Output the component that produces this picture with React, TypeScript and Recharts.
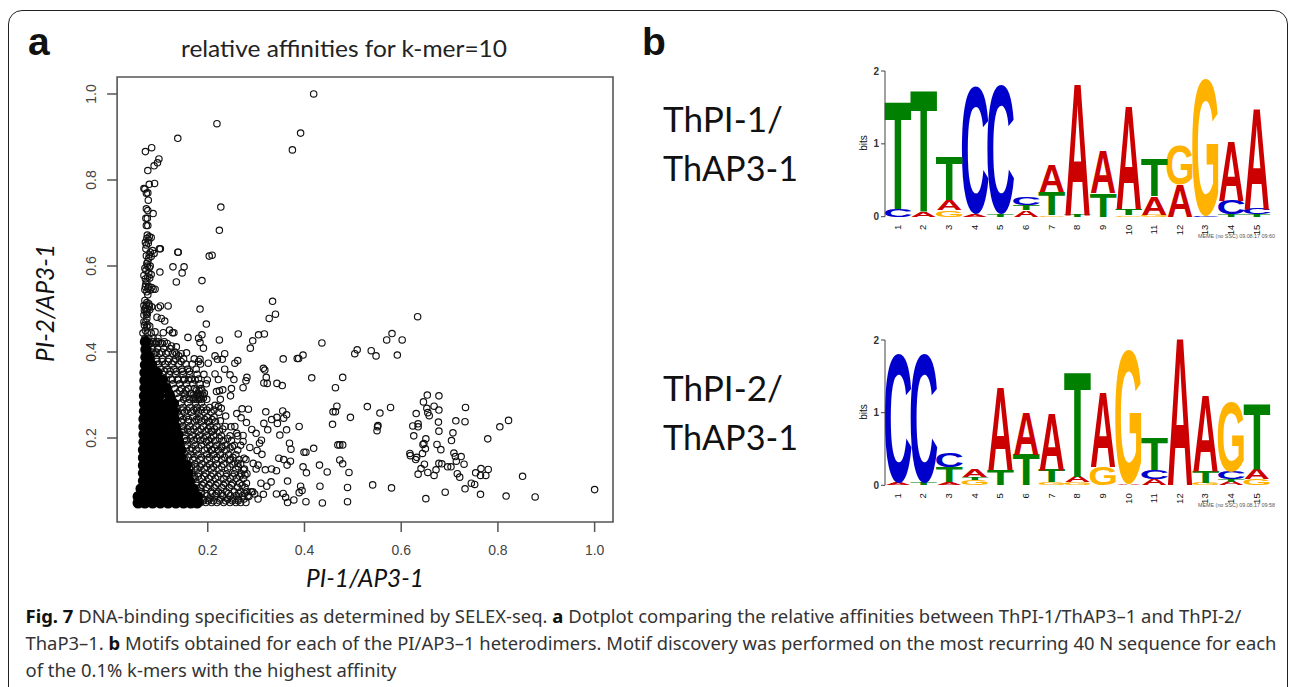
import React from 'react';
import { ScatterChart, Scatter, XAxis, YAxis, ReferenceArea, BarChart, Bar } from 'recharts';

const xTicks = [0.2, 0.4, 0.6, 0.8, 1.0];
const yTicks = [0.2, 0.4, 0.6, 0.8, 1.0];

const farPoints: [number, number][] = [
[.634,.482],[.581,.443],[.570,.428],[.602,.428],[.509,.405],[.504,.396],[.538,.403],[.548,.391],[.592,.393],[.436,.421],[.397,.393],[.385,.385],[.388,.385],[.356,.384],[.415,.340],[.479,.341],[.464,.317],[.467,.274],[.459,.261],[.464,.261],[.530,.273],[.556,.258],[.578,.271],[.495,.248],[.458,.232],[.551,.226],[.552,.229],[.550,.217],[.389,.227],[.419,.176],[.469,.184],[.473,.184],[.479,.184],[.399,.167],[.403,.167],[.473,.149],[.479,.140],[.431,.137],[.397,.133],[.404,.119],[.447,.121],[.492,.120],[.392,.088],[.432,.088],[.489,.085],[.541,.091],[.580,.084],[.403,.052],[.437,.049],[.489,.052],[.651,.059],[.691,.074],[.732,.082],[.745,.095],[.752,.092],[.764,.069],[.817,.065],[.877,.063],[1.0,.080],[.851,.111],[.780,.127],[.765,.129],[.754,.119],[.764,.113],[.775,.113],[.716,.117],[.721,.109],[.730,.139],[.724,.157],[.709,.165],[.712,.157],[.714,.146],[.703,.133],[.696,.133],[.684,.140],[.678,.141],[.672,.126],[.668,.113],[.655,.120],[.635,.116],[.641,.129],[.648,.139],[.630,.150],[.632,.155],[.618,.164],[.619,.159],[.644,.164],[.650,.175],[.645,.185],[.647,.187],[.651,.198],[.626,.205],[.624,.228],[.635,.233],[.635,.226],[.631,.257],[.646,.284],[.654,.300],[.653,.269],[.655,.259],[.658,.252],[.668,.274],[.678,.298],[.678,.265],[.677,.237],[.678,.216],[.674,.185],[.682,.173],[.707,.212],[.704,.194],[.713,.240],[.732,.238],[.733,.271],[.779,.198],[.804,.226],[.822,.241],
];

const topPoints: [number, number][] = [
[.419,1.0],[.392,.909],[.375,.870],[.219,.931],[.138,.897],[.084,.875],[.071,.866],[.099,.849],[.096,.840],[.089,.833],[.076,.822],[.090,.792],[.079,.790],[.068,.780],[.070,.779],[.073,.769],[.076,.770],[.077,.753],[.073,.733],[.076,.729],[.087,.722],[.227,.737],[.224,.683],[.072,.711],[.075,.711],[.073,.694],[.076,.694],[.075,.672],[.079,.668],[.083,.666],[.073,.649],[.077,.653],[.100,.640],[.102,.640],[.086,.636],[.089,.629],[.139,.632],[.138,.632],[.203,.623],[.209,.625],[.073,.624],[.078,.618],[.076,.610],[.070,.595],[.081,.600],[.128,.598],[.151,.598],[.147,.584],[.101,.586],[.078,.584],[.083,.580],[.068,.578],[.074,.564],[.135,.563],[.188,.566],[.071,.552],[.078,.552],[.087,.546],[.091,.546],[.076,.533],[.334,.518],[.184,.500],[.340,.488],[.327,.478],[.068,.508],[.073,.509],[.079,.507],[.084,.505],[.102,.507],[.118,.507],[.068,.486],[.073,.494],[.098,.503],[.072,.640],[.075,.600],[.071,.570],[.074,.540],[.070,.520],[.076,.500],[.072,.470],[.069,.462],
[.074,.664],[.078,.660],[.071,.655],[.081,.632],[.079,.626],[.083,.622],[.074,.606],[.079,.596],[.072,.590],[.076,.575],[.080,.572],[.072,.558],[.076,.548],[.081,.544],[.084,.550],[.070,.545],[.074,.515],[.078,.512],[.071,.502],[.075,.488],[.069,.497],[.080,.498],[.074,.478],[.068,.470],[.076,.463],
];

const midPoints: [number, number][] = [
[.095,.481],[.104,.478],[.111,.472],[.073,.488],[.197,.465],[.074,.459],[.080,.460],[.071,.450],[.091,.447],[.108,.445],[.121,.451],[.127,.445],[.130,.445],[.159,.434],[.181,.432],[.188,.440],[.184,.422],[.224,.428],[.263,.442],[.305,.440],[.317,.442],[.293,.426],[.288,.409],[.191,.409],[.094,.424],[.106,.420],[.125,.414],[.135,.412],[.156,.398],[.135,.395],[.140,.391],[.215,.391],[.235,.396],[.220,.383],[.230,.383],[.184,.383],[.181,.378],[.201,.374],[.262,.380],[.256,.374],[.315,.362],[.318,.358],[.321,.341],[.316,.328],[.323,.327],[.343,.327],[.354,.322],[.281,.341],[.279,.333],[.273,.317],[.254,.336],[.246,.347],[.235,.360],[.215,.349],[.199,.335],[.222,.336],[.249,.315],[.247,.298],[.218,.308],[.224,.310],[.231,.312],[.226,.290],[.215,.276],[.222,.273],[.228,.269],[.271,.268],[.284,.267],[.320,.261],[.260,.257],[.355,.263],[.363,.254],[.357,.246],[.343,.248],[.332,.243],[.316,.234],[.324,.219],[.344,.234],[.363,.219],[.349,.207],[.269,.247],[.280,.236],[.291,.220],[.300,.211],[.311,.195],[.307,.188],[.302,.171],[.312,.162],[.273,.206],[.273,.192],[.287,.178],[.260,.211],[.248,.226],[.237,.251],[.201,.238],[.226,.240],[.369,.188],[.372,.174],[.347,.153],[.357,.150],[.371,.146],[.364,.137],[.294,.141],[.304,.137],[.300,.128],[.319,.126],[.332,.128],[.342,.124],[.365,.100],[.310,.095],[.322,.088],[.331,.098],[.389,.073],[.395,.078],[.356,.071],[.342,.070],[.361,.062],[.365,.050],[.378,.056],[.290,.075],[.297,.070],[.315,.069],[.304,.058],[.285,.064],[.275,.153],[.274,.126],[.277,.114],[.262,.141],[.245,.149],[.251,.180],[.229,.180],[.209,.172],[.197,.191],[.209,.215],
];

const fringeRows: [number, number[]][] = [
[.050,[.185,.196,.208,.219,.233,.246,.258,.268,.279]],
[.058,[.190,.204,.226,.241,.252,.263,.275]],
[.066,[.182,.199,.215,.231,.247,.259,.272,.283]],
[.075,[.187,.207,.222,.238,.255,.268,.281,.293]],
[.085,[.184,.198,.213,.229,.244,.262,.277]],
[.095,[.176,.192,.206,.221,.236,.251,.266,.28]],
[.106,[.171,.187,.202,.216,.233,.247,.259,.274]],
[.117,[.166,.181,.196,.211,.226,.239,.255,.27,.281]],
[.128,[.162,.178,.193,.207,.223,.241,.258,.276]],
[.139,[.158,.173,.188,.204,.218,.233,.252,.268]],
[.150,[.152,.169,.184,.199,.216,.229,.247,.265,.279]],
[.161,[.149,.165,.18,.197,.212,.226,.243,.258]],
[.172,[.148,.163,.176,.193,.208,.222,.238,.262]],
[.183,[.144,.158,.174,.187,.204,.219,.236,.255,.268]],
[.194,[.141,.156,.171,.185,.201,.216,.232,.249]],
[.205,[.139,.153,.168,.183,.198,.212,.228,.246,.262]],
[.216,[.137,.15,.165,.18,.196,.207,.224]],
[.227,[.134,.148,.163,.176,.191,.205,.219,.236,.256]],
[.238,[.13,.145,.159,.173,.187,.203,.216]],
[.249,[.126,.142,.156,.169,.184,.199,.213]],
[.26,[.122,.137,.152,.166,.181,.193,.207,.223]],
[.271,[.118,.134,.149,.163,.178,.191,.204]],
[.282,[.114,.129,.145,.159,.175,.187]],
[.293,[.11,.125,.14,.155,.17,.182,.191]],
[.304,[.107,.122,.136,.151,.166,.18,.193]],
[.315,[.104,.118,.132,.146,.16,.172,.186]],
[.326,[.1,.114,.128,.142,.156,.169,.184,.197]],
[.337,[.098,.11,.124,.138,.152,.166,.181]],
[.348,[.094,.107,.12,.134,.149,.163,.178,.192]],
[.36,[.09,.102,.116,.13,.146,.158,.176]],
[.372,[.086,.098,.112,.126,.14,.155,.168,.185]],
[.384,[.083,.094,.106,.12,.134,.15,.172]],
[.396,[.08,.09,.1,.114,.127,.145]],
[.408,[.076,.086,.096,.109,.122]],
[.42,[.072,.082,.092,.102,.116]],
[.432,[.07,.078,.087,.097]],
[.444,[.066,.075,.083]],
];

const fringeRows2: [number, number[]][] = [
[.054,[.183,.191,.201,.212,.224,.237,.251,.263]],
[.071,[.186,.194,.209,.218,.228,.243,.264,.276]],
[.090,[.177,.189,.203,.217,.233,.249,.271]],
[.111,[.172,.18,.193,.207,.221,.238,.252,.266]],
[.133,[.166,.175,.184,.198,.212,.229,.246,.263]],
[.155,[.16,.172,.187,.203,.219,.235,.252]],
[.177,[.156,.167,.181,.199,.214,.229,.246]],
[.199,[.153,.164,.178,.192,.207,.224,.241]],
[.221,[.149,.158,.171,.186,.201,.214,.231]],
[.243,[.149,.16,.176,.181,.194,.209]],
[.265,[.148,.157,.171,.177,.186,.198,.213]],
[.29,[.15,.162,.172,.178,.182,.187,.198]],
[.30,[.153,.17,.176,.18,.185,.19]],
[.31,[.142,.155,.176,.182,.188]],
[.335,[.127,.138,.15,.16,.174]],
[.355,[.111,.122,.135,.148,.162]],
[.378,[.095,.106,.118,.13,.145]],
[.40,[.084,.093,.105,.118,.132]],
[.424,[.078,.087,.098,.11]],
];

const coreRows: [number, number[]][] = [
[.049,[.056,.070,.086,.102,.118,.134,.150,.165,.178]],
[.064,[.056,.070,.086,.102,.118,.134,.150,.165,.178]],
[.082,[.062,.077,.092,.108,.124,.140,.156,.170]],
[.100,[.067,.082,.098,.114,.130,.146,.162]],
[.118,[.067,.082,.098,.114,.130,.146,.159]],
[.136,[.067,.082,.098,.114,.130,.146,.155]],
[.154,[.067,.082,.098,.114,.130,.145]],
[.172,[.067,.082,.098,.114,.130,.143]],
[.190,[.068,.083,.099,.115,.131,.140]],
[.208,[.068,.083,.099,.115,.131,.138]],
[.226,[.068,.083,.099,.115,.133]],
[.244,[.068,.083,.099,.115,.131]],
[.262,[.069,.084,.100,.116,.130]],
[.280,[.069,.084,.100,.116,.129]],
[.298,[.069,.084,.100,.121]],
[.316,[.070,.084,.100,.114]],
[.334,[.070,.084,.098,.106]],
[.352,[.070,.084,.095]],
[.370,[.071,.084]],
[.388,[.072,.078]],
[.406,[.072]],
[.424,[.071]],
];

const positions = [1, 2, 3, 4, 5, 6, 7, 8, 9, 10, 11, 12, 13, 14, 15];

// Sequence logo stacks, bottom to top: [letter, bits] at each position
const motif1: [string, number][][] = [
[['C',.10],['T',1.46]],
[['A',.07],['T',1.65]],
[['G',.09],['A',.14],['T',.59]],
[['A',.04],['C',1.76]],
[['T',.03],['C',1.77]],
[['A',.09],['T',.07],['C',.10]],
[['G',.02],['T',.32],['A',.37]],
[['T',.03],['A',1.78]],
[['T',.32],['A',.57]],
[['G',.02],['T',.09],['A',1.40]],
[['G',.03],['A',.25],['T',.51]],
[['A',.44],['G',.55]],
[['C',.01],['G',1.89]],
[['T',.03],['C',.19],['A',.80]],
[['T',.03],['C',.08],['A',1.36]],
];
const motif2: [string, number][][] = [
[['A',.03],['C',1.78]],
[['T',.03],['C',1.78]],
[['A',.04],['T',.21],['C',.20]],
[['G',.07],['T',.04],['A',.10]],
[['T',.21],['A',1.13]],
[['T',.42],['A',.58]],
[['G',.04],['T',.17],['A',.77]],
[['G',.04],['A',.08],['T',1.42]],
[['G',.25],['A',1.02]],
[['A',.02],['G',1.86]],
[['A',.08],['C',.13],['T',.43]],
[['A',2.0]],
[['G',.03],['T',.16],['A',1.03]],
[['A',.05],['T',.03],['C',.10],['G',.96]],
[['G',.08],['A',.13],['T',.89]],
];

const captionLine1 = ['DNA-binding specificities as determined by SELEX-seq. ', ' Dotplot comparing the relative affinities between ThPI-1/ThAP3–1 and ThPI-2/'];
const captionLine2 = ['ThaP3–1. ', ' Motifs obtained for each of the PI/AP3–1 heterodimers. Motif discovery was performed on the most recurring 40 N sequence for each'];
const captionLine3 = 'of the 0.1% k-mers with the highest affinity';

const letterColors: Record<string, string> = { A: '#CC0000', C: '#0000CC', G: '#FFB300', T: '#008000' };
const inkWidth: Record<string, number> = { A: 72, C: 64, G: 68, T: 58 };

const pairsToRows = (pairs: [number, number][]) => pairs.map(([x, y]) => ({ x, y }));
const rowsToRows = (rows: [number, number[]][]) => rows.flatMap(([y, xs]) => xs.map((x) => ({ x, y })));

const ring = (p: any) => <circle cx={p.cx} cy={p.cy} r={3.2} fill="none" stroke="#111" strokeWidth={1.15} />;
const solid = (p: any) => <circle cx={p.cx} cy={p.cy} r={5.6} fill="#000" />;

const YTick = (p: any) => (
  <text transform={`rotate(-90 ${p.x - 9} ${p.y})`} x={p.x - 9} y={p.y} textAnchor="middle" fontSize={14} fill="#444" fontFamily="'Liberation Sans'">
    {Number(p.payload.value).toFixed(1)}
  </text>
);
const XTick = (p: any) => (
  <text x={p.x} y={p.y + 21} textAnchor="middle" fontSize={14} fill="#444" fontFamily="'Liberation Sans'">
    {Number(p.payload.value).toFixed(1)}
  </text>
);

function Dotplot() {
  return (
    <div style={{ position: 'absolute', left: 0, top: 0 }}>
      <ScatterChart width={640} height={600} margin={{ left: 57.1, right: 27, top: 77, bottom: 28 }}>
        <XAxis type="number" dataKey="x" domain={[0.0125, 1.038]} ticks={xTicks} height={50} tickSize={10} stroke="#555" strokeWidth={1.5} tick={XTick} axisLine={false} allowDataOverflow />
        <YAxis type="number" dataKey="y" domain={[0.0047, 1.0395]} ticks={yTicks} width={60} tickSize={10} stroke="#555" strokeWidth={1.5} tick={YTick} axisLine={false} allowDataOverflow />
        <ReferenceArea x1={0.0125} x2={1.038} y1={0.0047} y2={1.0395} fill="none" stroke="#555" strokeWidth={1.6} ifOverflow="visible" />
        <Scatter data={rowsToRows(fringeRows)} shape={ring} isAnimationActive={false} />
        <Scatter data={rowsToRows(fringeRows2)} shape={ring} isAnimationActive={false} />
        <Scatter data={pairsToRows(midPoints)} shape={ring} isAnimationActive={false} />
        <Scatter data={pairsToRows(topPoints)} shape={ring} isAnimationActive={false} />
        <Scatter data={pairsToRows(farPoints)} shape={ring} isAnimationActive={false} />
        <Scatter data={rowsToRows(coreRows)} shape={solid} isAnimationActive={false} />
      </ScatterChart>
    </div>
  );
}

const layerKeys = ['l0', 'l1', 'l2', 'l3'];

const Glyph = (p: any, layer: number, motif: [string, number][][]) => {
  const { x, y, width, height, payload } = p;
  const cell = motif[payload.pos - 1][layer];
  if (!cell || !(height > 0)) return <g />;
  const letter = cell[0];
  const round = letter === 'C' || letter === 'G';
  const capH = round ? 71.2 : 68.8;
  const sx = width / inkWidth[letter];
  const sy = height / capH;
  const base = y + height - (round ? 1.2 * sy : 0);
  return (
    <text
      transform={`translate(${x + width / 2} ${base}) scale(${sx} ${sy})`}
      textAnchor="middle"
      fontSize={100}
      fontWeight={700}
      fontFamily="'Liberation Sans'"
      fill={letterColors[letter]}
    >
      {letter}
    </text>
  );
};

const LogoXTick = (p: any) => (
  <text transform={`rotate(-90 ${p.x} ${p.y})`} x={p.x} y={p.y + 3} textAnchor="end" fontSize={9.5} fill="#111" fontFamily="'Liberation Sans'">
    {p.payload.value}
  </text>
);
const LogoYTick = (p: any) => (
  <text x={p.x} y={p.y + 3.5} textAnchor="end" fontSize={10} fontWeight={700} fill="#333" fontFamily="'Liberation Sans'">
    {p.payload.value}
  </text>
);

function Logo({ motif, left, top, marginTop, axisHeight }: { motif: [string, number][][]; left: number; top: number; marginTop: number; axisHeight: number }) {
  const rows = positions.map((pos, i) => {
    const row: any = { pos };
    layerKeys.forEach((k, j) => {
      row[k] = motif[i][j] ? motif[i][j][1] : 0;
    });
    return row;
  });
  return (
    <div style={{ position: 'absolute', left, top }}>
      <BarChart width={430} height={190} data={rows} barCategoryGap={0} barGap={0} margin={{ left: 0, right: 10.5, top: marginTop, bottom: 0 }}>
        <XAxis dataKey="pos" type="category" height={axisHeight} axisLine={false} tickLine={false} tick={LogoXTick} interval={0} />
        <YAxis type="number" domain={[0, 2]} ticks={[0, 1, 2]} width={35} tickSize={4} stroke="#444" tick={LogoYTick} />
        {layerKeys.map((k, j) => (
          <Bar key={k} dataKey={k} stackId="s" isAnimationActive={false} shape={(p: any) => Glyph(p, j, motif)} />
        ))}
      </BarChart>
    </div>
  );
}

const calibri = "Lato, 'Open Sans', sans-serif";
const capFont = "'Noto Sans', 'Open Sans', sans-serif";

function Overlay() {
  return (
    <svg width={1292} height={687} style={{ position: 'absolute', left: 0, top: 0, pointerEvents: 'none' }}>
      <text x={28} y={55} fontSize={39} fontWeight={700} fontFamily="'Liberation Sans'" fill="#111">a</text>
      <text x={642} y={55} fontSize={39} fontWeight={700} fontFamily="'Liberation Sans'" fill="#111">b</text>
      <text x={181} y={57} fontSize={24} fontFamily={calibri} fill="#222" textLength={326} lengthAdjust="spacingAndGlyphs">relative affinities for k-mer=10</text>
      <text x={306} y={587} fontSize={25} fontStyle="italic" fontFamily={calibri} fill="#111" textLength={118} lengthAdjust="spacingAndGlyphs">PI-1/AP3-1</text>
      <text transform="rotate(-90 54 303)" x={54} y={303} textAnchor="middle" fontSize={25} fontStyle="italic" fontFamily={calibri} fill="#111" textLength={118} lengthAdjust="spacingAndGlyphs">PI-2/AP3-1</text>

      <text x={663} y={132} fontSize={35} fontFamily={calibri} fill="#111" textLength={120} lengthAdjust="spacingAndGlyphs">ThPI-1/</text>
      <text x={663} y={181} fontSize={35} fontFamily={calibri} fill="#111" textLength={135} lengthAdjust="spacingAndGlyphs">ThAP3-1</text>
      <text x={663} y={401} fontSize={35} fontFamily={calibri} fill="#111" textLength={120} lengthAdjust="spacingAndGlyphs">ThPI-2/</text>
      <text x={663} y={450} fontSize={35} fontFamily={calibri} fill="#111" textLength={135} lengthAdjust="spacingAndGlyphs">ThAP3-1</text>

      <text transform="rotate(-90 867 143)" x={867} y={143} textAnchor="middle" fontSize={10} fontFamily="'Liberation Sans'" fill="#111">bits</text>
      <text transform="rotate(-90 867 412)" x={867} y={412} textAnchor="middle" fontSize={10} fontFamily="'Liberation Sans'" fill="#111">bits</text>
      <text x={1198} y={238} fontSize={5} fontFamily="'Liberation Sans'" fill="#555" textLength={77} lengthAdjust="spacingAndGlyphs">MEME (no SSC) 09.08.17 09:60</text>
      <text x={1198} y={507} fontSize={5} fontFamily="'Liberation Sans'" fill="#555" textLength={77} lengthAdjust="spacingAndGlyphs">MEME (no SSC) 09.08.17 09:58</text>

      <text x={25.5} y={623} fontSize={18} fontFamily={capFont} fill="#333" textLength={1216} lengthAdjust="spacingAndGlyphs">
        <tspan fontWeight={700} fill="#111">Fig. 7</tspan> {captionLine1[0]}<tspan fontWeight={700} fill="#111">a</tspan>{captionLine1[1]}
      </text>
      <text x={25.5} y={650} fontSize={18} fontFamily={capFont} fill="#333" textLength={1251} lengthAdjust="spacingAndGlyphs">
        {captionLine2[0]}<tspan fontWeight={700} fill="#111">b</tspan>{captionLine2[1]}
      </text>
      <text x={25.5} y={677} fontSize={18} fontFamily={capFont} fill="#333" textLength={371} lengthAdjust="spacingAndGlyphs">{captionLine3}</text>
    </svg>
  );
}

export default function App() {
  return (
    <div style={{ position: 'fixed', left: 0, top: 0, width: 1292, height: 687, overflow: 'hidden', background: '#fff' }}>
      <div style={{ position: 'absolute', left: 8, top: 10, width: 1280, height: 720, border: '1.5px solid #222', borderRadius: 14, boxSizing: 'border-box' }} />
      <Dotplot />
      <Logo motif={motif1} left={850} top={60} marginTop={11} axisHeight={33.3} />
      <Logo motif={motif2} left={850} top={330} marginTop={10} axisHeight={34.7} />
      <Overlay />
    </div>
  );
}
